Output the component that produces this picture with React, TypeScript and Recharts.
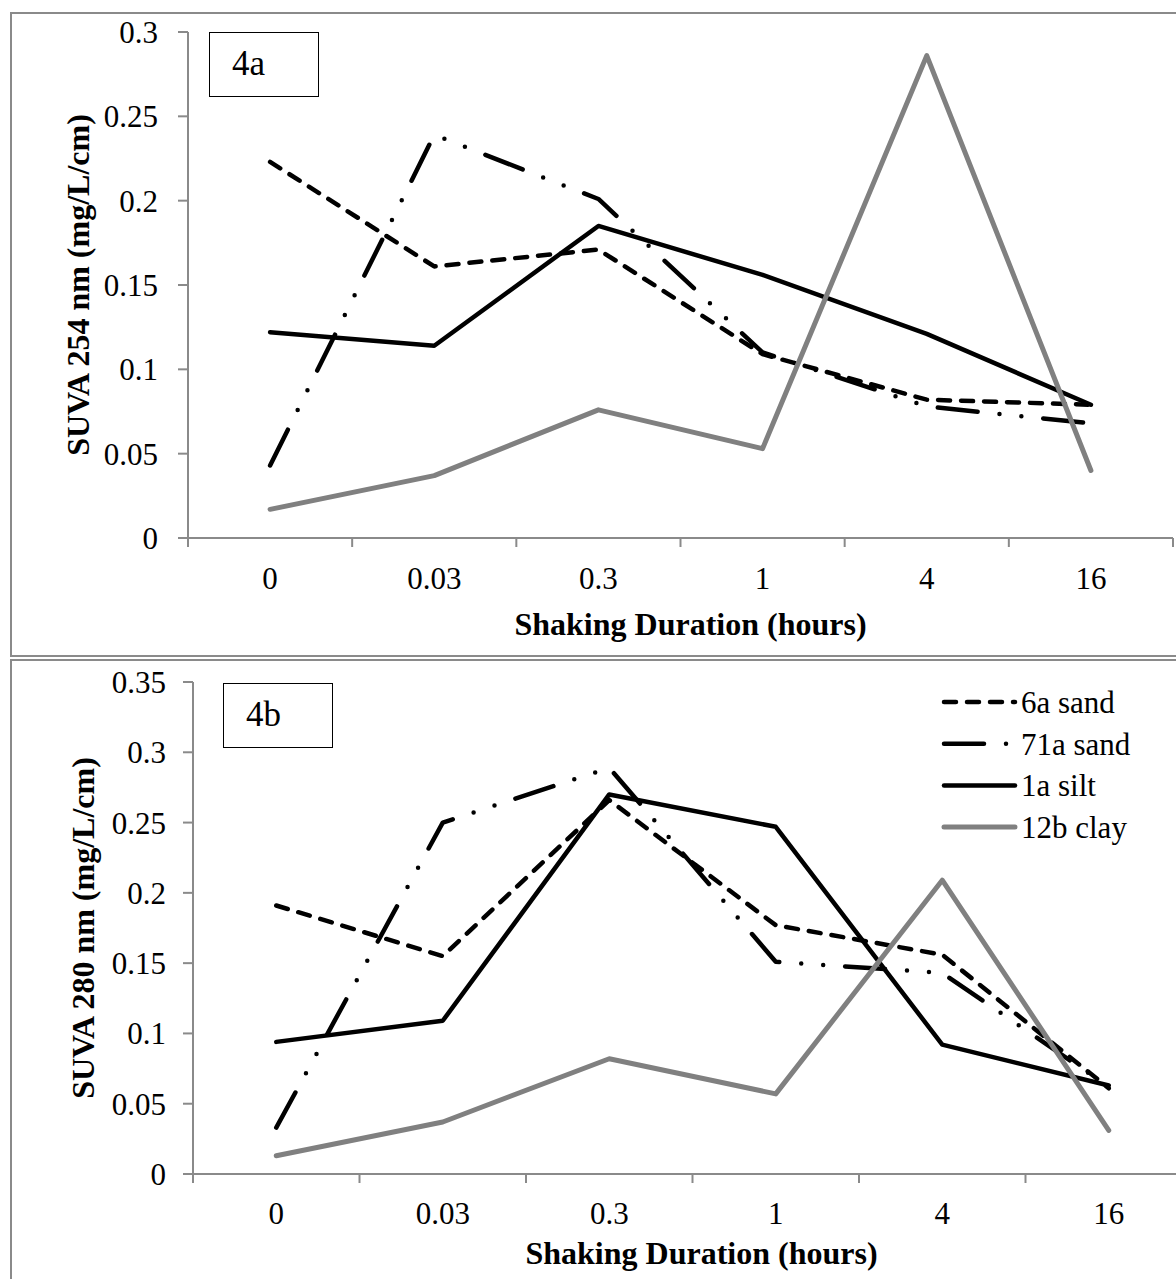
import React from 'react';
import { LineChart, Line, XAxis, YAxis, Legend } from 'recharts';

// shaking duration categories (hours)
const durations = ['0', '0.03', '0.3', '1', '4', '16'];

// SUVA at 254 nm (mg/L/cm)
const sand6a254 = [0.223, 0.161, 0.171, 0.109, 0.082, 0.079];
const sand71a254 = [0.043, 0.239, 0.201, 0.110, 0.078, 0.068];
const silt1a254 = [0.122, 0.114, 0.185, 0.156, 0.121, 0.079];
const clay12b254 = [0.017, 0.037, 0.076, 0.053, 0.286, 0.040];

// SUVA at 280 nm (mg/L/cm)
const sand6a280 = [0.191, 0.155, 0.266, 0.177, 0.156, 0.061];
const sand71a280 = [0.033, 0.250, 0.289, 0.151, 0.143, 0.062];
const silt1a280 = [0.094, 0.109, 0.270, 0.247, 0.092, 0.063];
const clay12b280 = [0.013, 0.037, 0.082, 0.057, 0.209, 0.031];

const ticks254 = [0, 0.05, 0.1, 0.15, 0.2, 0.25, 0.3];
const ticks280 = [0, 0.05, 0.1, 0.15, 0.2, 0.25, 0.3, 0.35];
const edgeTicks = [0, 1, 2, 3, 4, 5, 6];

const SERIF = '"Liberation Serif", "Times New Roman", serif';
const AXIS = '#8a8a8a';
const TICK_FONT = 31;
const TITLE_FONT = 32;

const series = [
  { key: 's6a', name: '6a sand', color: '#000', width: 4.5, dash: '12 11' },
  { key: 's71a', name: '71a sand', color: '#000', width: 4.5, dash: '40 22 0 22 0 22' },
  { key: 's1a', name: '1a silt', color: '#000', width: 4.5, dash: undefined },
  { key: 'c12b', name: '12b clay', color: '#808080', width: 5, dash: undefined },
];

// each category sits in the middle of its band, so x = index + 0.5
const buildRows = (a: number[], b: number[], c: number[], d: number[]) =>
  durations.map((label, i) => ({ pos: i + 0.5, label, s6a: a[i], s71a: b[i], s1a: c[i], c12b: d[i] }));

const rows254 = buildRows(sand6a254, sand71a254, silt1a254, clay12b254);
const rows280 = buildRows(sand6a280, sand71a280, silt1a280, clay12b280);

// labels drawn half a band to the right of each boundary tick
const makeCatTick = (halfBand: number) => (props: any) => {
  const { x, y, payload } = props;
  const i = payload.value;
  if (i >= durations.length) return null;
  return (
    <text x={x + halfBand} y={y} dy="0.71em" textAnchor="middle" fontFamily={SERIF} fontSize={TICK_FONT} fill="#000">
      {durations[i]}
    </text>
  );
};

const LegendBox = () => (
  <svg width={236} height={170}>
    {series.map((s, i) => {
      const cy = 20 + i * 41.7;
      return (
        <g key={s.key}>
          <line x1={4} x2={75} y1={cy} y2={cy} stroke={s.color} strokeWidth={s.width}
            strokeDasharray={s.dash} strokeLinecap="round" />
          <text x={81} y={cy} dy="0.35em" fontFamily={SERIF} fontSize={TICK_FONT} fill="#000">{s.name}</text>
        </g>
      );
    })}
  </svg>
);

const tagBox = (left: number, top: number, text: string) => (
  <div style={{
    position: 'absolute', left, top, width: 110, height: 65, boxSizing: 'border-box',
    border: '1.5px solid #000', background: '#fff', fontFamily: SERIF, fontSize: 35,
    lineHeight: '62px', paddingLeft: 22,
  }}>{text}</div>
);

const renderLines = () =>
  series.map((s) => (
    <Line key={s.key} type="linear" dataKey={s.key} name={s.name} stroke={s.color}
      strokeWidth={s.width} strokeDasharray={s.dash} strokeLinecap="round" strokeLinejoin="round"
      dot={false} activeDot={false} isAnimationActive={false} />
  ));

const yTickStyle = { fontFamily: SERIF, fontSize: TICK_FONT, fill: '#000' };
const titleStyle = { fontFamily: SERIF, fontSize: TITLE_FONT, fontWeight: 'bold', fill: '#000' };

export default function App() {
  return (
    <div style={{ position: 'absolute', left: 0, top: 0, width: 1176, height: 1279, background: '#fff', overflow: 'hidden' }}>
      {/* panel frames */}
      <div style={{ position: 'absolute', left: 10, top: 12, width: 1200, height: 645, border: `2px solid ${AXIS}`, boxSizing: 'border-box' }} />
      <div style={{ position: 'absolute', left: 10, top: 659, width: 1200, height: 700, border: `2px solid ${AXIS}`, boxSizing: 'border-box' }} />

      {/* 4a: SUVA 254 */}
      <div style={{ position: 'absolute', left: 0, top: 0 }}>
        <LineChart width={1176} height={655} data={rows254} margin={{ top: 32, right: 3, left: 0, bottom: 17 }}>
          <XAxis dataKey="pos" type="number" domain={[0, 6]} ticks={edgeTicks} height={100}
            axisLine={{ stroke: AXIS, strokeWidth: 2 }} tickLine={{ stroke: AXIS, strokeWidth: 2 }}
            tickSize={9} tickMargin={20} tick={makeCatTick(82.1)} interval={0}
            label={{ value: 'Shaking Duration (hours)', position: 'insideBottom', offset: 3, dx: 10, style: titleStyle }} />
          <YAxis type="number" domain={[0, 0.3]} ticks={ticks254} width={188} interval={0}
            axisLine={{ stroke: AXIS, strokeWidth: 2 }} tickLine={{ stroke: AXIS, strokeWidth: 2 }}
            tickSize={10} tickMargin={20} tick={yTickStyle}
            label={{ value: 'SUVA 254 nm (mg/L/cm)', angle: -90, position: 'center', dx: -16, style: titleStyle }} />
          {renderLines()}
        </LineChart>
      </div>
      {tagBox(209, 32, '4a')}

      {/* 4b: SUVA 280 */}
      <div style={{ position: 'absolute', left: 0, top: 660 }}>
        <LineChart width={1200} height={619} data={rows280} margin={{ top: 22, right: 8, left: 0, bottom: 10 }}>
          <XAxis dataKey="pos" type="number" domain={[0, 6]} ticks={edgeTicks} height={95}
            axisLine={{ stroke: AXIS, strokeWidth: 2 }} tickLine={{ stroke: AXIS, strokeWidth: 2 }}
            tickSize={9} tickMargin={19} tick={makeCatTick(83.25)} interval={0}
            label={{ value: 'Shaking Duration (hours)', position: 'insideBottom', offset: 5, dx: 9, style: titleStyle }} />
          <YAxis type="number" domain={[0, 0.35]} ticks={ticks280} width={193} interval={0}
            axisLine={{ stroke: AXIS, strokeWidth: 2 }} tickLine={{ stroke: AXIS, strokeWidth: 2 }}
            tickSize={10} tickMargin={17} tick={yTickStyle}
            label={{ value: 'SUVA 280 nm (mg/L/cm)', angle: -90, position: 'center', dx: -14, style: titleStyle }} />
          <Legend content={LegendBox} layout="vertical" align="center" verticalAlign="middle"
            wrapperStyle={{ left: 940, top: 22, width: 236, height: 170 }} />
          {renderLines()}
        </LineChart>
      </div>
      {tagBox(223, 683, '4b')}
    </div>
  );
}
